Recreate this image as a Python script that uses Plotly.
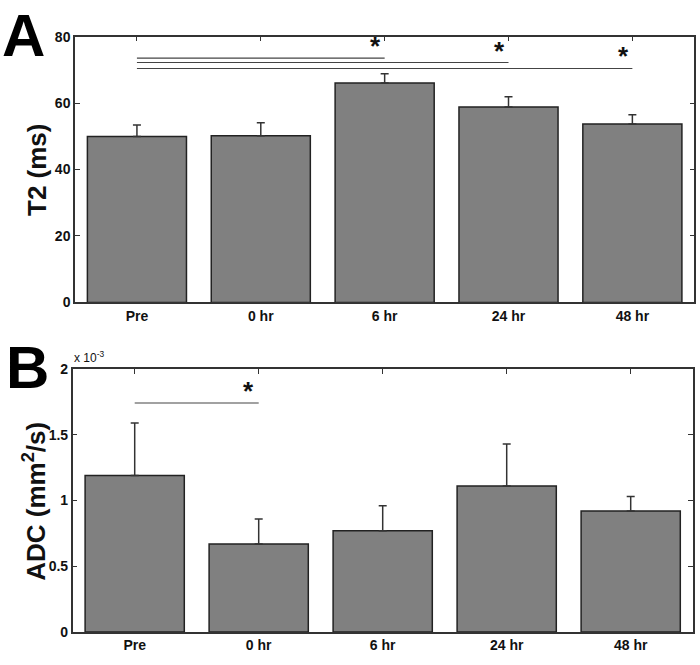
import plotly.graph_objects as go

# ---------------- data ----------------
categories = ["Pre", "0 hr", "6 hr", "24 hr", "48 hr"]
t2_mean = [49.9, 50.2, 66.0, 58.8, 53.7]
t2_err = [3.5, 3.9, 2.8, 3.1, 2.8]
adc_mean = [1.19, 0.67, 0.77, 1.11, 0.92]   # x 10^-3 mm^2/s
adc_err = [0.40, 0.19, 0.19, 0.32, 0.11]
t2_ticks = [0, 20, 40, 60, 80]
adc_ticks = [0, 0.5, 1, 1.5, 2]
adc_tick_labels = ["0", "0.5", "1", "1.5", "2"]
# significance brackets: (from category index, to category index, y level)
t2_sig = [(1, 3, 73.5), (1, 4, 72.2), (1, 5, 70.4)]
adc_sig = [(1, 2, 1.742)]

W, H = 700, 665
FONT = "Arial, Liberation Sans, sans-serif"
xpos = list(range(1, len(categories) + 1))

def px(x):
    return x / W

def py(y):
    return 1 - y / H

fig = go.Figure()

fig.add_trace(go.Bar(
    x=xpos, y=t2_mean, width=0.8,
    marker=dict(color="#808080", line=dict(color="#222222", width=1.5)),
    error_y=dict(type="data", array=t2_err, arrayminus=[0] * 5, symmetric=False,
                 color="#333333", thickness=1.5, width=4),
    xaxis="x", yaxis="y", showlegend=False, hoverinfo="skip",
))
fig.add_trace(go.Bar(
    x=xpos, y=adc_mean, width=0.8,
    marker=dict(color="#808080", line=dict(color="#222222", width=1.5)),
    error_y=dict(type="data", array=adc_err, arrayminus=[0] * 5, symmetric=False,
                 color="#333333", thickness=1.5, width=4),
    xaxis="x2", yaxis="y2", showlegend=False, hoverinfo="skip",
))

axis_common = dict(
    showline=True, linecolor="#333333", linewidth=1.5, mirror="ticks",
    ticks="inside", ticklen=5, tickwidth=1.2, tickcolor="#333333",
    showgrid=False, zeroline=False, layer="below traces",
    tickfont=dict(family=FONT, size=14, color="#111111"),
)

fig.update_layout(
    width=W, height=H,
    margin=dict(l=0, r=0, t=0, b=0, pad=0),
    paper_bgcolor="white", plot_bgcolor="white",
    bargap=0.2,
    xaxis=dict(domain=[px(75), px(694.3)], range=[0.5, 5.5], tickvals=xpos,
               ticktext=[f"<b>{c}</b>" for c in categories], anchor="y", **axis_common),
    yaxis=dict(domain=[py(301.7), py(29.3)], range=[0, 80], tickvals=t2_ticks,
               ticktext=[f"<b>{v}</b>" for v in t2_ticks], anchor="x", **axis_common),
    xaxis2=dict(domain=[px(72.7), px(692.7)], range=[0.5, 5.5], tickvals=xpos,
                ticktext=[f"<b>{c}</b>" for c in categories], anchor="y2", **axis_common),
    yaxis2=dict(domain=[py(639.3), py(370)], range=[0, 2], tickvals=adc_ticks,
                ticktext=[f"<b>{v}</b>" for v in adc_tick_labels], anchor="x2", **axis_common),
)

shapes = []
annotations = []
for (a, b, y) in t2_sig:
    shapes.append(dict(type="line", xref="x", yref="y", x0=a, x1=b, y0=y, y1=y,
                       line=dict(color="#444444", width=1.2)))
    annotations.append(dict(xref="x", yref="y", x=b, y=y, text="<b>*</b>", showarrow=False,
                            xanchor="center", yanchor="bottom", xshift=-9, yshift=-5,
                            font=dict(family=FONT, size=26, color="#111111")))
for (a, b, y) in adc_sig:
    shapes.append(dict(type="line", xref="x2", yref="y2", x0=a, x1=b, y0=y, y1=y,
                       line=dict(color="#444444", width=1.2)))
    annotations.append(dict(xref="x2", yref="y2", x=b, y=y, text="<b>*</b>", showarrow=False,
                            xanchor="center", yanchor="bottom", xshift=-10, yshift=-5,
                            font=dict(family=FONT, size=26, color="#111111")))

# panel letters
annotations.append(dict(xref="paper", yref="paper", x=px(0), y=py(28), text="<b>A</b>",
                        showarrow=False, xanchor="left", yanchor="middle",
                        font=dict(family=FONT, size=60, color="black")))
annotations.append(dict(xref="paper", yref="paper", x=px(4), y=py(368), text="<b>B</b>",
                        showarrow=False, xanchor="left", yanchor="middle",
                        font=dict(family=FONT, size=60, color="black")))
# axis titles
annotations.append(dict(xref="paper", yref="paper", x=px(37), y=py(166), text="<b>T2 (ms)</b>",
                        showarrow=False, textangle=-90, xanchor="center", yanchor="middle",
                        font=dict(family=FONT, size=26, color="#111111")))
annotations.append(dict(xref="paper", yref="paper", x=px(35), y=py(506),
                        text="<b>ADC (mm<sup>2</sup>/s)</b>",
                        showarrow=False, textangle=-90, xanchor="center", yanchor="middle",
                        font=dict(family=FONT, size=26, color="#111111")))
# exponent label
annotations.append(dict(xref="paper", yref="paper", x=px(72), y=py(368),
                        text="x 10<sup>-3</sup>", showarrow=False, xanchor="left", yanchor="bottom",
                        font=dict(family=FONT, size=12, color="#111111")))

fig.update_layout(shapes=shapes, annotations=annotations)

page_css = (
    "var s=document.createElement('style');"
    "s.textContent='html,body{margin:0;padding:0;overflow:hidden;width:700px;height:665px;}"
    "body>div{margin:0;padding:0;line-height:0;}';"
    "document.head.appendChild(s);"
)
fig.write_html("out.html", config={"displayModeBar": False}, post_script=page_css)
